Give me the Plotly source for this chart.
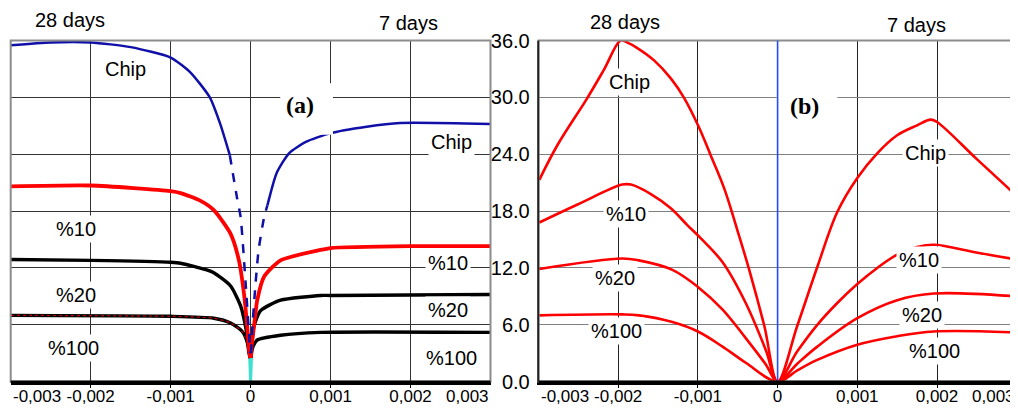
import plotly.graph_objects as go

# ---------------- data ----------------
X_TICKS = [-0.003, -0.002, -0.001, 0, 0.001, 0.002, 0.003]
X_TICK_TEXT = ["-0,003", "-0,002", "-0,001", "0", "0,001", "0,002", "0,003"]
Y_TICKS = [0, 6, 12, 18, 24, 30, 36]
Y_TICK_TEXT = ["0.0", "6.0", "12.0", "18.0", "24.0", "30.0", "36.0"]

# Panel (a) : 28 days (negative side) / 7 days (positive side)
A_CHIP28_X_SOLID = [-0.0030, -0.0025, -0.0020, -0.0015, -0.0010, -0.00076, -0.00051, -0.00038, -0.00026]
A_CHIP28_Y_SOLID = [35.5, 35.8, 35.8, 35.3, 34.2, 32.7, 30.0, 27.2, 23.9]
A_CHIP28_X_DASH = [-0.00026, -0.00017, -0.000125, -0.0000625, -0.00002, -0.000005]
A_CHIP28_Y_DASH = [23.9, 19.4, 17.4, 10.4, 5.1, 3.0]
A_CHIP7_X_DASH = [0.000005, 0.00002, 0.0000625, 0.00010, 0.00017, 0.00021]
A_CHIP7_Y_DASH = [3.0, 5.5, 10.4, 13.9, 17.4, 18.6]
A_CHIP7_X_SOLID = [0.00021, 0.000325, 0.00048, 0.00069, 0.00099, 0.00145, 0.00187, 0.0030]
A_CHIP7_Y_SOLID = [18.6, 22.0, 24.1, 25.3, 26.2, 26.9, 27.3, 27.2]

A_P10_28_X = [-0.0030, -0.0020, -0.0010, -0.000875, -0.00063, -0.00046, -0.00025, -0.000146, -0.000083, -0.000042, -0.00002, -0.000005]
A_P10_28_Y = [20.6, 20.7, 20.1, 19.9, 19.1, 18.1, 15.6, 12.8, 9.3, 5.8, 3.4, 2.5]
A_P10_7_X = [0.000005, 0.0000125, 0.000042, 0.000083, 0.00017, 0.000375, 0.000875, 0.0010, 0.0020, 0.0030]
A_P10_7_Y = [2.5, 3.7, 5.8, 8.6, 11.1, 12.8, 13.9, 14.1, 14.3, 14.3]

A_P20_28_X = [-0.0030, -0.0020, -0.0010, -0.000875, -0.00055, -0.00046, -0.00025, -0.000125, -0.0000625, -0.00002, -0.000005]
A_P20_28_Y = [12.9, 12.8, 12.6, 12.5, 11.8, 11.5, 10.1, 8.0, 5.8, 3.4, 2.5]
A_P20_7_X = [0.000005, 0.00001, 0.00004, 0.000125, 0.000375, 0.000875, 0.0010, 0.0030]
A_P20_7_Y = [2.5, 3.4, 5.8, 7.5, 8.6, 9.1, 9.1, 9.2]

A_P100_28_X = [-0.0030, -0.0010, -0.00046, -0.00025, -0.000104, -0.00004, -0.00002, -0.000005]
A_P100_28_Y = [7.0, 6.9, 6.7, 6.2, 5.3, 4.1, 3.0, 2.5]
A_P100_7_X = [0.000005, 0.00001, 0.00003, 0.000083, 0.000375, 0.000875, 0.0030]
A_P100_7_Y = [2.5, 3.0, 3.7, 4.4, 4.9, 5.2, 5.2]

A_CYAN_X = [-0.00002, 0, 0.00002]
A_CYAN_Y = [4.5, 0, 4.5]

# Panel (b)
B_CHIP_X = [-0.00299, -0.00276, -0.00239, -0.00218, -0.00197, -0.00189, -0.00176, -0.00155, -0.00134,
            -0.00117, -0.00099, -0.00084, -0.00067, -0.00048, -0.000356, -0.000167, 0,
            0.000247, 0.000498, 0.000749, 0.0010, 0.00125, 0.0015, 0.00175, 0.00192, 0.0020,
            0.00251, 0.0030]
B_CHIP_Y = [21.3, 25.0, 29.9, 32.9, 36.0, 35.8, 35.2, 33.9, 32.0, 29.9, 26.9, 23.9, 20.4, 15.3, 11.8,
            5.9, 0, 5.9, 12.1, 17.9, 21.5, 24.1, 26.0, 27.05, 27.65, 27.4, 23.4, 19.6]
B_P10_X = [-0.00299, -0.00251, -0.00195, -0.00184, -0.00159, -0.00134, -0.00113, -0.00096, -0.00069,
           -0.00040, -0.000146, 0, 0.000247, 0.000498, 0.000749, 0.0010, 0.00125, 0.0015, 0.00175,
           0.00196, 0.00251, 0.0030]
B_P10_Y = [16.8, 18.7, 20.8, 20.8, 19.8, 18.3, 16.5, 15.1, 12.6, 8.3, 3.3, 0, 3.2, 6.0, 8.3, 10.3,
           12.0, 13.4, 14.2, 14.45, 13.6, 12.9]
B_P20_X = [-0.00299, -0.00195, -0.00174, -0.00132, -0.0010, -0.00069, -0.00040, -0.000146, 0,
           0.000247, 0.000498, 0.0010, 0.0015, 0.00196, 0.0030]
B_P20_Y = [11.9, 13.0, 12.8, 11.8, 10.0, 7.6, 4.6, 1.8, 0, 1.9, 3.7, 6.7, 8.6, 9.3, 9.0]
B_P100_X = [-0.00299, -0.00195, -0.00174, -0.00132, -0.0010, -0.00069, -0.00040, 0,
            0.000247, 0.000498, 0.0010, 0.0015, 0.00196, 0.0030]
B_P100_Y = [7.0, 7.1, 7.0, 6.3, 5.3, 3.7, 2.0, 0, 1.2, 2.3, 3.9, 4.8, 5.3, 5.2]

# labels: (text, x, y, subplot)
LABELS = [
    ("Chip", -0.00156, 33.0, "a"), ("Chip", 0.00251, 25.3, "a"),
    ("%10", -0.00218, 16.1, "a"), ("%20", -0.00218, 9.1, "a"), ("%100", -0.00222, 3.6, "a"),
    ("%10", 0.00247, 12.5, "a"), ("%20", 0.00247, 7.6, "a"), ("%100", 0.00251, 2.5, "a"),
    ("Chip", -0.00186, 31.6, "b"), ("Chip", 0.00185, 24.1, "b"),
    ("%10", -0.00190, 17.7, "b"), ("%20", -0.00204, 10.9, "b"), ("%100", -0.00202, 5.4, "b"),
    ("%10", 0.00178, 12.8, "b"), ("%20", 0.00181, 7.0, "b"), ("%100", 0.00197, 3.2, "b"),
]
# age labels: y given as fraction of the plot height (above the frame)
AGE_LABELS = [
    ("28 days", -0.00226, 1.060, "a"), ("7 days", 0.00197, 1.051, "a"),
    ("28 days", -0.00192, 1.055, "b"), ("7 days", 0.00174, 1.046, "b"),
]
PANEL_LABELS = [("(a)", 0.00062, 29.2, "a"), ("(b)", 0.00034, 29.05, "b")]

# ---------------- figure ----------------
# the page body adds an 8 px margin, so the figure is drawn 8 px smaller / offset
OFF = 8
W, H = 1018 - OFF, 410 - OFF
BLUE = "#1010a8"
RED = "#ff0000"
FONT = "Liberation Sans, Arial, sans-serif"
XT_SIZE = 17

fig = go.Figure()

def add(x, y, color, width, xa="x", ya="y", dash="solid", shape="spline", smoothing=0.6):
    fig.add_trace(go.Scatter(x=x, y=y, mode="lines", xaxis=xa, yaxis=ya,
                             line=dict(color=color, width=width, dash=dash, shape=shape,
                                       smoothing=smoothing),
                             showlegend=False, hoverinfo="skip"))

# panel (a)
add(A_CYAN_X, A_CYAN_Y, "#40e0d0", 3, shape="linear")
add(A_P100_28_X, A_P100_28_Y, "black", 3.4)
add(A_P100_28_X, A_P100_28_Y, "#c00000", 1.2, dash="dot")
add(A_P100_7_X, A_P100_7_Y, "black", 3.4)
add(A_P20_28_X, A_P20_28_Y, "black", 3.4)
add(A_P20_7_X, A_P20_7_Y, "black", 3.4)
add(A_P10_28_X, A_P10_28_Y, RED, 3.8)
add(A_P10_7_X, A_P10_7_Y, RED, 3.8)
add(A_CHIP28_X_SOLID, A_CHIP28_Y_SOLID, BLUE, 2.5)
add(A_CHIP7_X_SOLID, A_CHIP7_Y_SOLID, BLUE, 2.5)
add(A_CHIP28_X_DASH, A_CHIP28_Y_DASH, BLUE, 2.5, dash="dash")
add(A_CHIP7_X_DASH, A_CHIP7_Y_DASH, BLUE, 2.5, dash="dash")

# panel (b)
for bx, by in [(B_CHIP_X, B_CHIP_Y), (B_P10_X, B_P10_Y), (B_P20_X, B_P20_Y), (B_P100_X, B_P100_Y)]:
    add(bx, by, RED, 2.6, xa="x2", ya="y2", smoothing=1.0)

A_DOM = [(10.7 - OFF) / W, (490.5 - OFF) / W]
B_DOM = [(538.5 - OFF) / W, (1016.7 - OFF) / W]
Y_DOM = [(H - (381.7 - OFF)) / H, (H - (40.5 - OFF)) / H]

common_x = dict(range=[-0.003, 0.003], tickvals=X_TICKS[1:-1], ticktext=X_TICK_TEXT[1:-1],
                showgrid=True, gridwidth=1, zeroline=False, automargin=False,
                showline=True, linecolor="black", linewidth=2.5, ticks="outside", ticklen=4,
                tickcolor="black", ticklabelstandoff=-7,
                tickfont=dict(family=FONT, size=XT_SIZE, color="black"))
fig.update_layout(
    width=W, height=H, margin=dict(l=0, r=0, t=0, b=0, pad=0), autosize=False,
    paper_bgcolor="white", plot_bgcolor="white",
    xaxis=dict(domain=A_DOM, anchor="y", gridcolor="#333333", **common_x),
    xaxis2=dict(domain=B_DOM, anchor="y2", gridcolor="#222222", **common_x),
    yaxis=dict(domain=Y_DOM, anchor="x", range=[0, 36], tickvals=Y_TICKS, showticklabels=False,
               automargin=False, showgrid=True, gridcolor="#333333", gridwidth=1,
               zeroline=False, showline=False),
    yaxis2=dict(domain=Y_DOM, anchor="x2", range=[0, 36], tickvals=Y_TICKS, ticktext=Y_TICK_TEXT,
                automargin=False, showgrid=True, gridcolor="#808080", gridwidth=1, zeroline=False,
                showline=True, linecolor="#222222", linewidth=1.5, ticks="outside", ticklen=3,
                tickcolor="rgba(0,0,0,0)", tickfont=dict(family=FONT, size=20, color="black")),
)

shapes = []
# gray frames
for xr, yr in [("x", "y"), ("x2", "y2")]:
    shapes.append(dict(type="rect", xref=f"{xr} domain", yref=f"{yr} domain", x0=0, x1=1, y0=0, y1=1,
                       line=dict(color="#8c8c8c", width=2), fillcolor="rgba(0,0,0,0)", layer="above"))
# white boxes behind panel labels
shapes.append(dict(type="rect", xref="x", yref="y", x0=0.00037, x1=0.00103, y0=26.05, y1=31.5,
                   line=dict(width=0), fillcolor="white", layer="above"))
shapes.append(dict(type="rect", xref="x2", yref="y2", x0=-0.00001, x1=0.00075, y0=26.6, y1=31.5,
                   line=dict(width=0), fillcolor="white", layer="above"))
# blue vertical line at 0 in panel (b)
shapes.append(dict(type="line", xref="x2", yref="y2", x0=0, x1=0, y0=0, y1=36,
                   line=dict(color="#1f4fff", width=1.6), layer="above"))
# bottom axis lines in black over the frame
for xr, yr in [("x", "y"), ("x2", "y2")]:
    shapes.append(dict(type="line", xref=f"{xr} domain", yref=f"{yr} domain", x0=0, x1=1, y0=0, y1=0,
                       line=dict(color="black", width=2.5), layer="above"))
shapes.append(dict(type="line", xref="x2 domain", yref="y2 domain", x0=0, x1=0, y0=0, y1=1,
                   line=dict(color="#222222", width=1.5), layer="above"))
fig.update_layout(shapes=shapes)

ann = []
for text, x, y, p in LABELS:
    xr, yr = ("x", "y") if p == "a" else ("x2", "y2")
    ann.append(dict(text=text, x=x, y=y, xref=xr, yref=yr, showarrow=False, bgcolor="white", borderpad=2,
                    font=dict(family=FONT, size=20, color="black")))
for text, x, y, p in AGE_LABELS:
    xr, yr = ("x", "y domain") if p == "a" else ("x2", "y2 domain")
    ann.append(dict(text=text, x=x, y=y, xref=xr, yref=yr, showarrow=False, yanchor="middle",
                    font=dict(family=FONT, size=20, color="black")))
for text, x, y, p in PANEL_LABELS:
    xr, yr = ("x", "y") if p == "a" else ("x2", "y2")
    ann.append(dict(text="<b>" + text + "</b>", x=x, y=y, xref=xr, yref=yr, showarrow=False,
                    font=dict(family="Liberation Serif, Times New Roman, serif", size=24, color="black")))
# end tick labels (aligned inside the frame, as in the original)
LBL_Y = (H - (396 - OFF)) / H
for xr in ["x", "x2"]:
    ann.append(dict(text=X_TICK_TEXT[0], x=X_TICKS[0], xref=xr, y=LBL_Y, yref="paper",
                    xanchor="left", yanchor="middle", showarrow=False,
                    font=dict(family=FONT, size=XT_SIZE, color="black")))
    ann.append(dict(text=X_TICK_TEXT[-1], x=X_TICKS[-1], xref=xr, y=LBL_Y, yref="paper",
                    xanchor="right", yanchor="middle", showarrow=False,
                    font=dict(family=FONT, size=XT_SIZE, color="black")))
fig.update_layout(annotations=ann)

fig.write_html("out.html")
